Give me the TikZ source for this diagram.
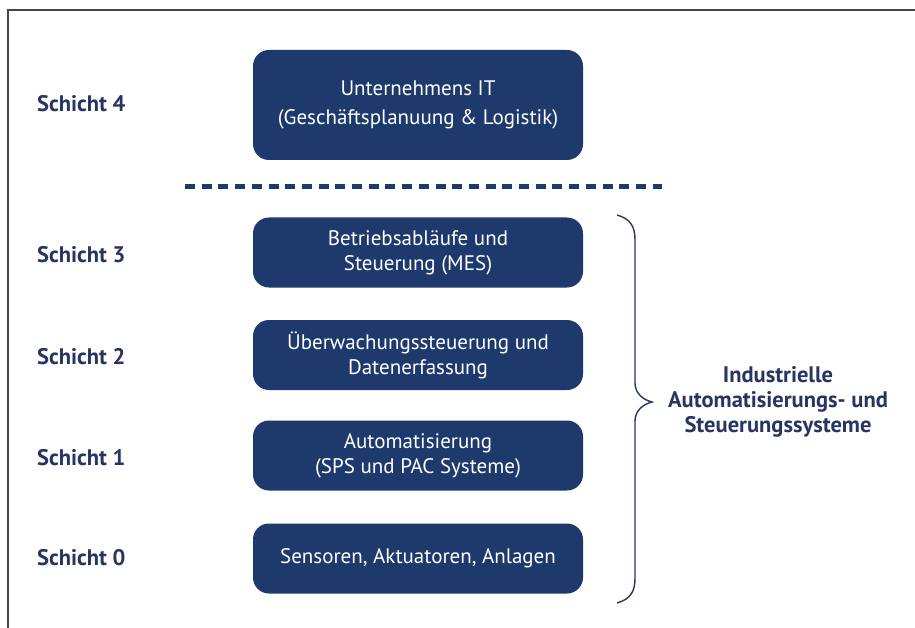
\documentclass[tikz,border=0pt]{standalone}
\usepackage{fontspec}
\setmainfont{PT Sans}
\definecolor{navy}{HTML}{1E3A6D}
\definecolor{labelc}{HTML}{2A3462}
\definecolor{framec}{HTML}{444444}
\begin{document}
\begin{tikzpicture}[x=1pt,y=-1pt,
  layerbox/.style={draw=none, fill=navy, rounded corners=16pt, minimum width=330pt,
    text=white, align=center, font=\fontsize{21}{25}\selectfont, inner sep=0pt},
  layerlabel/.style={text=labelc, font=\bfseries\fontsize{22.5}{25}\selectfont, anchor=west, inner sep=0pt},
  bracestyle/.style={draw=labelc, line width=1.4pt},
  sepline/.style={draw=navy, line width=5pt, dash pattern=on 10pt off 6.7pt}]
\useasboundingbox (0,0) rectangle (915,628);
\fill[white] (0,0) rectangle (915,628);
% frame
\draw[framec, line width=2pt] (8,628) -- (8,10) -- (915,10);
% boxes
\node[layerbox, minimum height=110pt, font=\fontsize{21}{29}\selectfont] (b4) at (418,105) {Unternehmens IT\\(Geschäftsplanuung \& Logistik)};
\node[layerbox, minimum height=70pt] (b3) at (418,252.5) {Betriebsabläufe und\\Steuerung (MES)};
\node[layerbox, minimum height=70pt] (b2) at (418,355) {Überwachungssteuerung und\\Datenerfassung};
\node[layerbox, minimum height=70pt] (b1) at (418,455.5) {Automatisierung\\(SPS und PAC Systeme)};
\node[layerbox, minimum height=70pt] (b0) at (418,558.5) {Sensoren, Aktuatoren, Anlagen};
% labels
\node[layerlabel] (l4) at (37,104) {Schicht 4};
\node[layerlabel] (l3) at (37,255) {Schicht 3};
\node[layerlabel] (l2) at (37,357) {Schicht 2};
\node[layerlabel] (l1) at (37,458) {Schicht 1};
\node[layerlabel] (l0) at (37,558) {Schicht 0};
% separator
\coordinate (s1) at (185,187);
\coordinate (s2) at (662,187);
\draw[sepline] (s1) -- (s2);
% brace
\coordinate (bt) at (617,215);
\coordinate (tip) at (652,402);
\coordinate (bb) at (617,603);
\draw[bracestyle] (bt) .. controls (631,219) and (635,227) .. (635,240)
  -- (635,383) .. controls (635,394) and (644,400) .. (tip)
  .. controls (644,404) and (635,410) .. (635,421)
  -- (635,578) .. controls (635,591) and (631,599) .. (bb);
\node[text=labelc, font=\bfseries\fontsize{22.5}{25}\selectfont, align=center] (sys) at (778,402)
  {Industrielle\\Automatisierungs- und\\Steuerungssysteme};
\end{tikzpicture}
\end{document}
